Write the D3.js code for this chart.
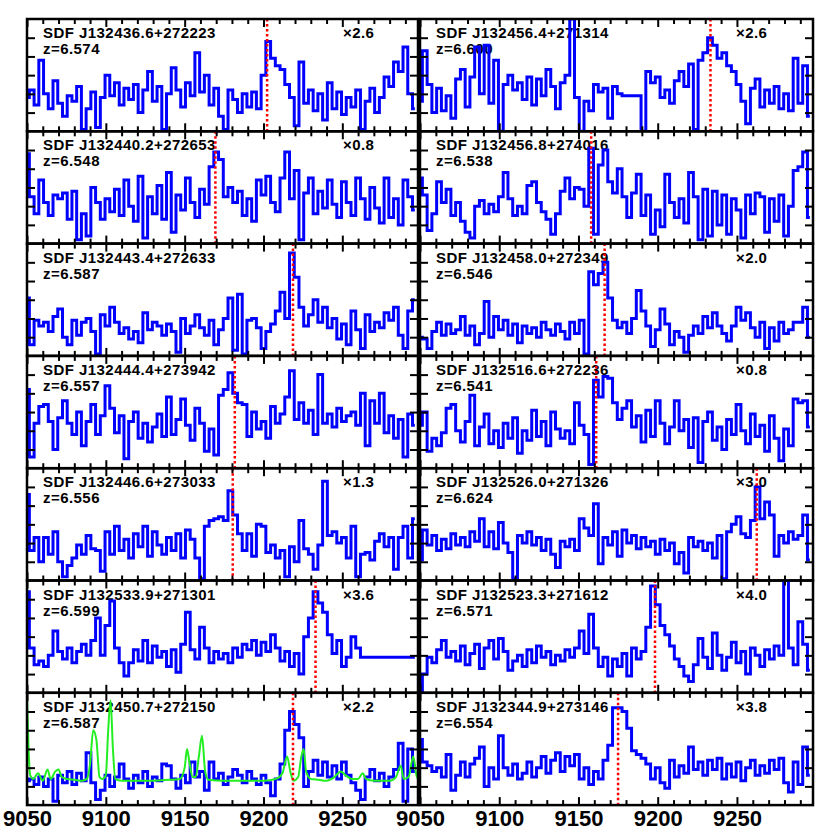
<!DOCTYPE html>
<html><head><meta charset="utf-8">
<script src="https://cdn.jsdelivr.net/npm/d3@7"></script>
<style>body{margin:0;background:#fff}</style>
</head><body><svg id="c" width="830" height="830"></svg>
<script>
// ---------- data ----------
const names = [
  "SDF J132436.6+272223","SDF J132440.2+272653","SDF J132443.4+272633","SDF J132444.4+273942",
  "SDF J132446.6+273033","SDF J132533.9+271301","SDF J132450.7+272150",
  "SDF J132456.4+271314","SDF J132456.8+274016","SDF J132458.0+272349","SDF J132516.6+272236",
  "SDF J132526.0+271326","SDF J132523.3+271612","SDF J132344.9+273146"];
const redshifts = ["6.574","6.548","6.587","6.557","6.556","6.599","6.587",
                   "6.600","6.538","6.546","6.541","6.624","6.571","6.554"];
const scaleFactors = ["×2.6","×0.8","","","×1.3","×3.6","×2.2",
                      "×2.6","","×2.0","×0.8","×3.0","×4.0","×3.8"];
const lineWaves = [9202.3,9169.5,9218.7,9181.8,9180.5,9233.0,9218.7,
                   9233.3,9158.0,9166.5,9161.2,9262.5,9198.3,9175.0];
const waveStart = 9050, waveStep = 3;   // spectral pixel grid (Å)
const spec0 = [1.8,2.2,1.4,3.8,2.0,1.2,2.7,1.5,0.8,1.9, 1.6,2.4,0.1,1.2,2.1,0.2,1.8,3.0,1.9,2.6,
 1.4,2.3,1.7,2.5,1.0,2.2,3.2,1.6,2.4,0.1, 2.0,3.4,2.2,1.3,2.6,1.9,4.2,2.1,3.0,1.4,
 2.3,0.8,0.1,2.2,1.7,1.0,2.0,1.3,2.1,1.2, 3.0,4.8,3.9,3.5,3.3,2.5,1.8,0.3,3.7,1.5,
 2.2,1.1,2.0,0.6,2.6,1.2,2.1,0.9,1.8,1.3, 2.2,0.1,1.6,2.3,1.0,1.8,2.9,2.4,3.7,3.2, 4.5,2.0,1.2];
const spec1 = [4.8,2.5,1.6,3.4,2.2,1.5,2.6,2.4,2.7,1.3, 2.8,0.2,1.6,0.4,3.0,2.2,1.3,2.4,1.7,2.9,
 1.5,3.4,2.0,1.2,3.6,0.3,2.5,1.6,3.1,1.3, 3.8,0.6,2.6,1.8,3.5,2.2,1.4,2.9,2.1,4.1,
 4.9,4.5,2.5,3.0,2.2,2.8,1.5,2.4,1.2,3.4, 2.6,3.6,2.2,1.7,3.5,4.9,2.4,3.9,0.2,2.7,
 3.5,1.6,2.8,1.9,3.4,2.1,1.4,3.3,2.2,1.5, 3.5,2.4,1.3,3.0,1.9,1.1,3.5,1.4,2.4,1.0, 3.4,2.5,1.8];
const spec2 = [3.1,0.6,1.9,1.6,1.8,1.3,2.1,2.5,1.0,0.6, 1.9,1.1,1.8,2.0,1.3,0.1,2.2,1.6,2.6,1.8,
 1.2,1.5,0.9,1.3,0.7,2.3,1.4,1.8,1.6,1.1, 1.7,1.3,0.2,2.0,1.2,1.6,2.2,1.5,1.1,1.9,
 0.6,1.4,2.0,3.1,0.3,3.3,0.1,1.9,2.0,1.5, 0.4,1.3,1.7,2.4,3.4,2.0,5.5,4.2,2.6,1.6,
 2.2,3.0,1.8,2.6,1.5,2.0,0.9,1.7,0.6,2.4, 1.4,0.4,2.2,1.3,1.8,1.5,2.3,1.9,2.6,1.1, 0.4,2.4,3.0];
const spec3 = [4.2,0.6,2.4,3.3,3.4,2.5,1.0,2.7,3.6,2.4, 1.8,3.0,1.2,2.5,3.4,1.8,2.8,4.4,3.2,1.9,
 2.8,0.5,2.5,3.0,1.6,2.4,1.4,2.2,2.9,1.7, 3.8,1.8,2.6,3.7,2.3,1.5,3.2,2.4,0.9,2.1,
 0.7,3.9,4.2,5.1,4.0,3.5,3.4,1.7,3.0,2.1, 2.5,1.6,3.3,2.4,2.9,3.8,5.2,2.6,3.5,2.4,
 3.1,1.8,5.0,2.4,2.9,2.2,3.2,2.5,2.8,3.0, 2.3,4.0,1.2,3.6,2.4,4.0,1.9,2.8,1.6,2.6, 0.6,2.9,2.3];
const spec4 = [4.6,1.6,2.3,1.0,2.3,1.4,2.6,1.0,0.2,0.8, 1.2,1.9,1.4,2.4,1.7,1.6,0.5,2.6,1.4,2.9,
 1.6,2.2,1.2,2.5,1.8,2.9,1.3,2.6,1.9,1.4, 2.3,1.6,2.5,1.2,2.7,2.2,1.2,0.1,2.9,3.2,
 3.3,3.4,3.2,4.8,3.5,2.5,1.6,2.5,1.3,3.0, 2.9,1.5,1.9,1.2,1.6,0.2,1.8,1.0,3.2,1.7,
 1.4,0.6,1.9,5.3,2.4,2.6,2.0,2.3,1.2,2.9, 0.2,1.4,1.5,1.1,2.1,2.5,1.8,2.3,0.6,2.3, 2.9,1.2,3.3];
const spec5 = [5.4,2.4,1.5,1.7,1.4,2.0,3.3,2.2,1.8,2.4, 1.6,2.2,2.6,2.0,2.8,4.0,2.0,3.6,4.9,2.4,
 1.6,0.9,1.6,2.3,1.7,2.8,1.6,2.5,1.9,2.2, 1.4,2.3,1.1,2.6,4.3,2.3,1.8,3.5,2.4,1.6,
 2.2,1.8,2.1,1.6,2.4,1.9,2.6,2.3,2.8,2.0, 2.7,2.2,3.1,2.4,1.7,2.2,1.4,2.1,1.0,3.0,
 4.0,5.4,4.8,4.3,3.1,2.1,2.8,1.4,1.9,3.0, 2.4,1.9,1.9,1.9,1.9,1.9,1.9,1.9,1.9,1.9, 1.9,1.9,1.9];
const spec6 = [1.3,1.4,1.1,1.5,1.0,1.4,0.2,1.6,1.2,1.8, 1.1,1.7,1.3,2.8,1.2,0.3,0.8,1.6,1.0,1.5,
 2.2,1.4,0.9,1.6,1.2,1.8,1.0,1.5,1.3,2.2, 2.1,1.4,0.9,1.6,1.2,2.3,1.5,1.8,0.8,2.3,
 1.4,1.7,1.1,1.5,1.9,1.6,1.2,1.8,1.4,1.1, 1.6,1.2,0.5,1.4,2.2,4.0,5.0,4.3,3.6,1.0,
 1.8,2.4,1.6,2.3,1.5,2.1,1.4,2.3,1.6,1.2, 0.8,0.3,1.5,1.9,1.3,1.7,1.0,1.5,1.9,3.3, 0.2,3.0,1.8];
const spec7 = [1.6,4.3,2.5,1.0,2.3,1.1,1.9,0.7,2.8,3.3, 1.3,2.9,4.5,2.0,4.6,1.5,3.8,0.0,2.5,3.0,
 2.2,2.6,1.7,2.9,1.4,2.8,1.9,3.3,2.4,1.2, 2.6,3.0,6.0,1.8,0.0,1.6,1.1,2.5,2.1,2.3,
 0.7,2.4,2.0,1.9,1.9,1.9,1.9,0.0,3.2,2.6, 2.9,1.8,2.2,1.5,2.7,3.2,2.4,3.6,0.1,3.8,
 4.2,5.0,4.6,3.9,4.2,3.5,3.2,2.5,1.6,0.4, 2.3,2.8,1.3,2.2,1.5,2.4,1.2,2.0,1.1,3.9, 1.5,3.5,0.8];
const spec8 = [3.5,2.6,0.7,1.6,3.3,2.2,2.9,1.5,2.2,1.2, 0.6,0.3,2.0,2.3,1.6,2.1,1.7,2.5,3.8,2.4,
 1.5,2.0,1.6,3.1,3.3,2.2,1.7,1.3,0.5,1.6, 2.8,3.5,2.4,3.0,2.9,2.0,5.1,0.5,4.2,5.0,
 3.3,2.7,4.0,2.5,1.4,2.7,3.7,1.5,2.6,0.5, 1.8,0.9,3.7,2.2,1.4,2.4,1.1,3.8,2.5,0.2,
 2.9,0.4,2.8,1.0,2.6,0.5,2.4,1.8,0.3,2.6, 1.6,2.7,2.5,0.6,2.4,1.2,2.6,0.4,2.0,3.9, 4.1,4.9,1.4];
const spec9 = [1.0,0.9,0.4,1.3,1.8,1.1,1.7,1.2,1.4,2.1, 1.1,1.6,0.6,1.2,2.9,1.0,2.1,1.4,1.9,1.1,
 1.7,0.7,1.6,1.2,1.5,1.0,1.8,1.4,1.1,1.7, 1.3,0.9,1.8,1.2,1.9,0.1,4.5,3.8,4.4,5.0,
 3.1,1.9,1.5,1.8,1.2,2.0,3.5,2.4,1.6,0.5, 1.4,2.5,1.7,0.6,1.3,1.0,0.2,1.1,1.6,1.2,
 2.1,1.5,2.3,1.6,1.2,0.8,1.6,2.6,1.9,2.3, 1.5,1.0,1.8,0.4,1.5,0.8,1.8,1.2,1.4,1.8, 1.8,2.6,1.0];
const spec10 = [2.3,3.0,0.9,1.6,1.2,1.9,3.2,3.4,2.0,1.4, 2.5,3.9,1.2,2.2,2.9,1.3,2.0,1.1,2.4,1.6,
 2.7,0.8,2.0,1.5,3.1,1.7,2.5,1.2,3.0,2.1, 1.6,2.0,1.3,3.5,2.3,1.8,0.2,4.7,3.8,4.9,
 4.8,3.5,2.6,3.2,3.6,2.2,2.8,1.4,3.1,1.7, 3.6,2.4,1.3,2.2,3.6,2.0,2.6,1.1,2.7,0.3,
 2.5,3.0,1.5,2.2,1.0,2.6,1.8,3.4,2.0,1.3, 2.9,1.7,2.3,0.9,2.8,1.6,0.4,2.1,1.2,3.7, 3.5,3.6,2.2];
const spec11 = [1.1,2.7,1.9,2.4,1.6,2.2,1.7,2.5,1.9,2.3, 1.8,2.6,2.1,3.3,1.8,2.6,1.7,3.1,2.0,1.5,
 0.1,2.4,2.0,2.6,1.9,2.3,1.6,2.2,1.4,0.7, 2.1,1.8,2.2,1.6,3.3,2.8,2.4,4.1,0.9,2.3,
 1.9,2.6,1.3,2.7,2.0,2.4,1.7,2.3,1.8,2.1, 1.4,2.2,1.6,2.0,0.9,1.5,0.4,2.3,1.8,2.1,
 1.6,2.0,1.2,2.4,0.1,2.6,3.0,3.4,2.5,2.3, 3.2,5.0,3.3,4.2,3.5,1.3,2.4,2.0,2.6,2.2, 2.4,3.5,1.1];
const spec12 = [0.1,1.0,1.9,1.6,2.3,2.8,1.9,2.2,1.7,2.5, 1.5,2.1,2.6,1.3,2.4,2.8,1.8,2.9,2.2,1.2,
 1.7,2.0,1.4,2.3,1.6,2.5,1.9,2.2,1.5,2.0, 1.7,2.3,1.9,2.4,3.3,2.1,4.2,2.4,1.4,1.9,
 0.9,1.8,1.4,2.1,0.9,2.4,1.8,2.2,3.5,5.7, 4.7,3.6,3.1,2.5,1.8,1.4,0.9,0.6,1.5,2.9,
 1.9,1.3,3.2,2.0,1.2,1.9,2.7,1.6,2.2,1.0, 2.4,2.0,1.4,2.3,1.8,2.5,2.0,6.0,2.4,1.5, 3.8,2.6,1.2];
const spec13 = [3.5,2.3,2.1,1.8,2.0,1.5,2.7,0.8,1.6,2.3, 1.5,2.2,2.5,3.1,1.0,2.0,1.4,3.7,2.0,1.6,
 2.2,1.4,1.7,2.3,1.5,2.0,2.6,1.7,2.4,2.8, 1.8,2.6,2.1,2.7,1.4,2.0,1.1,1.8,1.4,2.4,
 3.2,5.2,5.2,5.0,4.1,2.9,2.7,2.5,2.2,1.4, 2.0,1.2,0.9,2.4,1.5,2.1,1.7,3.1,1.9,2.3,
 1.6,2.4,1.9,2.5,1.4,2.2,1.5,2.3,1.3,2.0, 2.4,1.6,2.1,1.7,2.4,1.9,2.5,1.2,0.7,2.3, 1.1,3.1,1.6];
// green comparison spectrum (bottom-left panel)
const skyWave = [9050,9051,9052,9054,9057,9060,9063,9065,9068,9070,9072,9075,9080,9085,9088,9090,9092,9094,9096,9098,
 9100,9101.5,9103,9104.5,9106,9110,9120,9130,9140,9147,9150,9151.5,9153,9155,9157,9159,9161,9163,9165,9175,
 9190,9200,9208,9212,9215,9217,9219,9222,9224,9225.5,9227,9230,9235,9240,9245,9249,9252,9256,9260,9263,
 9265,9270,9280,9284,9287,9289,9292,9295,9297,9298];
const skyFlux = [5.8,3.0,1.6,1.4,1.7,1.3,1.9,1.4,1.8,1.9,1.5,1.4,1.35,1.3,1.4,2.2,4.0,3.5,1.5,1.4,
 1.6,4.0,5.6,3.0,1.4,1.3,1.3,1.3,1.35,1.4,2.0,3.0,2.3,1.5,1.5,2.6,3.7,1.8,1.35,1.3,
 1.3,1.3,1.4,1.7,2.6,1.8,1.3,1.5,2.6,3.0,1.8,1.4,1.35,1.3,1.5,1.8,1.6,1.4,1.4,1.7,
 1.4,1.3,1.3,1.5,2.1,1.4,1.5,2.6,1.6,1.4];
const xTickLabels = [9050,9100,9150,9200,9250];
const yTicks = [1,2,3,4,5];

const spectra = [spec0,spec1,spec2,spec3,spec4,spec5,spec6,spec7,spec8,spec9,spec10,spec11,spec12,spec13];

// ---------- layout ----------
const svg = d3.select("#c");
const colX = [27, 420], colW = [391, 393];
const top0 = 19, ph = 112.3;
const font = "'Liberation Sans', Arial, Helvetica, sans-serif";
const minorT = d3.range(9060, 9299, 10).filter(t => t % 50 !== 0);
const majorT = d3.range(9050, 9299, 50);

spectra.forEach((spec, i) => {
  const col = i < 7 ? 0 : 1, row = i % 7;
  const x0 = colX[col], w = colW[col], y0 = top0 + row * ph;
  const x = d3.scaleLinear().domain([9050, 9298]).range([x0, x0 + w]);
  const y = d3.scaleLinear().domain([0, 6]).range([y0 + ph, y0]);
  const g = svg.append("g");
  const cid = "clip" + i;
  svg.append("clipPath").attr("id", cid).append("rect")
    .attr("x", x0).attr("y", y0).attr("width", w).attr("height", ph);

  const lab = (tx, ty, s) => g.append("text").attr("x", tx).attr("y", ty).text(s)
    .attr("font-family", font).attr("font-weight", "bold").attr("font-size", 15)
    .attr("letter-spacing", "0.45px").attr("fill", "#000");
  lab(x0 + 16, y0 + 19, names[i]);
  lab(x0 + 16, y0 + 35, "z=" + redshifts[i]);
  if (scaleFactors[i]) lab(x0 + 316, y0 + 19, scaleFactors[i]);

  // spectrum
  const pts = spec.map((v, k) => [waveStart + k * waveStep, v]);
  const line = d3.line().x(d => x(d[0])).y(d => y(d[1])).curve(d3.curveStep);
  g.append("path").attr("d", line(pts)).attr("fill", "none")
    .attr("stroke", "#0000ff").attr("stroke-width", 3).attr("stroke-linejoin", "miter")
    .attr("clip-path", `url(#${cid})`);

  if (i === 6) {
    const sky = skyWave.map((wv, k) => [wv, skyFlux[k]]);
    const sl = d3.line().x(d => x(d[0])).y(d => y(d[1])).curve(d3.curveMonotoneX);
    g.append("path").attr("d", sl(sky)).attr("fill", "none")
      .attr("stroke", "#22ee22").attr("stroke-width", 2).attr("clip-path", `url(#${cid})`);
  }

  // Lyα position
  g.append("line").attr("x1", x(lineWaves[i])).attr("x2", x(lineWaves[i]))
    .attr("y1", y0).attr("y2", y0 + ph)
    .attr("stroke", "#ff0000").attr("stroke-width", 2.5).attr("stroke-dasharray", "2.5,2.5");

  // ticks via axes (inward)
  const addAxis = (ax, tx, ty) => {
    const a = g.append("g").attr("transform", `translate(${tx},${ty})`).call(ax);
    a.select(".domain").remove();
    a.selectAll("text").remove();
    a.selectAll("line").attr("stroke", "#000").attr("stroke-width", 2);
  };
  addAxis(d3.axisBottom(x).tickValues(minorT).tickSize(-5), 0, y0 + ph);
  addAxis(d3.axisBottom(x).tickValues(majorT).tickSize(-8), 0, y0 + ph);
  addAxis(d3.axisTop(x).tickValues(minorT).tickSize(-5), 0, y0);
  addAxis(d3.axisTop(x).tickValues(majorT).tickSize(-8), 0, y0);
  addAxis(d3.axisLeft(y).tickValues(yTicks).tickSize(-8), x0, 0);
  addAxis(d3.axisRight(y).tickValues(yTicks).tickSize(-8), x0 + w, 0);

  // frame
  g.append("rect").attr("x", x0).attr("y", y0).attr("width", w).attr("height", ph)
    .attr("fill", "none").attr("stroke", "#000").attr("stroke-width", 2.5);

  // bottom axis labels
  if (row === 6) {
    const ax = g.append("g").attr("transform", `translate(0,${y0 + ph})`)
      .call(d3.axisBottom(x).tickValues(xTickLabels).tickSize(0).tickPadding(5).tickFormat(d3.format("d")));
    ax.select(".domain").remove();
    ax.selectAll("text").attr("font-family", font).attr("font-weight", "bold")
      .attr("font-size", 22).attr("fill", "#000");
  }
});
</script>
</body></html>
